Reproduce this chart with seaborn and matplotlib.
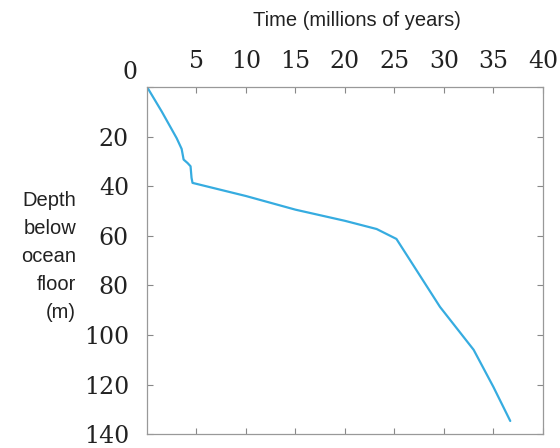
import numpy as np
import pandas as pd
import matplotlib
matplotlib.use("Agg")
import matplotlib.pyplot as plt
import matplotlib.transforms as mtransforms
import seaborn as sns

# values
time_myr = [0, 1.5, 3.0, 3.5, 3.7, 4.1, 4.4, 4.5, 4.6, 10, 15, 20, 23.2, 25.2, 27, 29.6, 33.0, 35, 36.7]
depth_m = [0, 10, 20.7, 25, 29.3, 30.7, 32, 36.7, 38.7, 44, 49.5, 54, 57.3, 61.3, 72.5, 88.7, 106, 121, 134.7]
x_ticks = [5, 10, 15, 20, 25, 30, 35, 40]
y_ticks = [0, 20, 40, 60, 80, 100, 120, 140]

df = pd.DataFrame({"time": time_myr, "depth": depth_m})

sns.set_style("white")
fig = plt.figure(figsize=(5.6, 4.48), dpi=100)
ax = fig.add_axes([0.2625, 0.031, 0.707, 0.775])

sns.lineplot(data=df, x="time", y="depth", sort=False, ax=ax,
             color="#36ace0", linewidth=1.6)

ax.set_xlim(0, 40)
ax.set_ylim(140, 0)
ax.xaxis.tick_top()
ax.set_xticks(x_ticks)
ax.set_yticks(y_ticks)
ax.tick_params(which="both", direction="in", length=4.5, width=0.8, color="#888888",
               top=True, bottom=True, left=True, right=True,
               labeltop=True, labelbottom=False, labelleft=True, labelright=False,
               labelsize=17)
ax.tick_params(axis="y", pad=13)
ax.tick_params(axis="x", pad=10)
for lab in ax.get_xticklabels() + ax.get_yticklabels():
    lab.set_fontfamily("DejaVu Serif")
    lab.set_color("#222222")
for s in ax.spines.values():
    s.set_color("#999999")
    s.set_linewidth(0.9)

# the "0" depth label sits a bit above the top edge
zero = ax.yaxis.get_major_ticks()[0].label1
zero.set_transform(zero.get_transform() +
                   mtransforms.ScaledTranslation(0.09, 17 / 100, fig.dpi_scale_trans))

ax.set_xlabel("")
ax.set_ylabel("")
fig.text(0.638, 0.955, "Time (millions of years)", ha="center", va="center",
         fontsize=14.5, family="Liberation Sans", color="#222222")
fig.text(0.136, 0.428, "Depth\nbelow\nocean\nfloor\n(m)", ha="right", va="center",
         fontsize=14.5, family="Liberation Sans", color="#222222",
         linespacing=1.6, multialignment="right")

fig.savefig("out.png", dpi=100)
